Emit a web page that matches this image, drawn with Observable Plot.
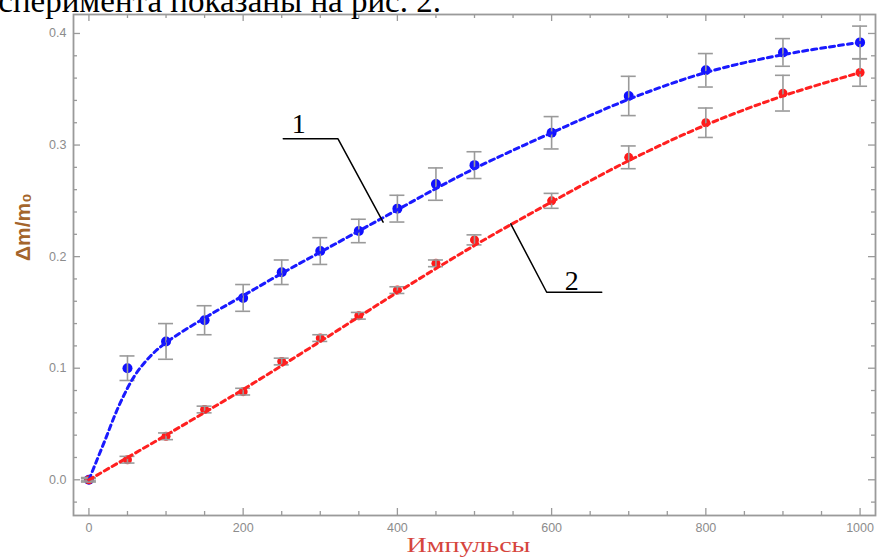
<!DOCTYPE html>
<html><head><meta charset="utf-8">
<script src="https://cdn.jsdelivr.net/npm/d3@7"></script>
<script src="https://cdn.jsdelivr.net/npm/@observablehq/plot@0.6"></script>
<style>
body{margin:0;background:#fff;}
#wrap{position:relative;width:877px;height:559px;overflow:hidden;background:#fff;}
#toptext{position:absolute;right:436px;top:-15px;font-family:"Liberation Serif",serif;font-size:33px;line-height:33px;white-space:nowrap;color:#000;}
#chart{position:absolute;left:0;top:0;}
</style></head><body>
<div id="wrap"><div id="chart"></div><div id="toptext">эксперимента показаны на рис. 2.</div></div>
<script>
// ---- data ----
const impulses = [0,50,100,150,200,250,300,350,400,450,500,600,700,800,900,1000];
const series1  = [0,0.100,0.124,0.143,0.163,0.186,0.205,0.223,0.243,0.265,0.282,0.311,0.344,0.367,0.383,0.392];
const err1     = [0.002,0.011,0.016,0.013,0.012,0.011,0.012,0.0105,0.012,0.0145,0.012,0.0145,0.0176,0.015,0.0124,0.0146];
const series2  = [0,0.018,0.039,0.063,0.079,0.106,0.127,0.147,0.170,0.194,0.215,0.250,0.289,0.320,0.3465,0.365];
const err2     = [0.001,0.003,0.003,0.003,0.003,0.003,0.003,0.003,0.003,0.003,0.0045,0.0067,0.0102,0.0132,0.016,0.0123];
// dashed fit curves
const fit1X = [0,20,40,60,80,100,150,200,250,300,350,400,450,500,600,700,800,900,1000];
const fit1Y = [0,0.034,0.068,0.094,0.111,0.123,0.145,0.165,0.185,0.204,0.223,0.242,0.261,0.279,0.311,0.341,0.365,0.381,0.392];
const fit2X = [0,100,200,300,400,500,600,700,800,900,1000];
const fit2Y = [0,0.040,0.081,0.124,0.168,0.210,0.249,0.286,0.318,0.344,0.365];
// ticks
const xTickLabels = [0,200,400,600,800,1000];
const xMinorTicks = [50,100,150,250,300,350,450,500,550,650,700,750,850,900,950];
const yTickLabels = [0.0,0.1,0.2,0.3,0.4];
const yMinorTicks = [-0.02,0.02,0.04,0.06,0.08,0.12,0.14,0.16,0.18,0.22,0.24,0.26,0.28,0.32,0.34,0.36,0.38];
// annotations (data coordinates)
const leader1X = [252,323,381.5];
const leader1Y = [0.3056,0.3056,0.2309];
const leader2X = [547,593.6,665];
const leader2Y = [0.2294,0.1681,0.1681];
const labelText = ["1","2"];
const labelX = [272,626];
const labelY = [0.3104,0.1697];
const xTitle = "Импульсы";
const yTitle = "Δm/m₀";

// ---- layout ----
const W = 877, H = 559;
const mL = 73, mR = 2, mT = 14, mB = 44;
const xDomain = [-20, 1020], yDomain = [-0.032, 0.417];
const pxX = (W - mL - mR) / (xDomain[1] - xDomain[0]);
const pxY = (H - mT - mB) / (yDomain[1] - yDomain[0]);
const majL = 7, minL = 4;
const frameColor = "#9a9a9a";

const rows1 = impulses.map((x,i)=>({x, y:series1[i], e:err1[i]}));
const rows2 = impulses.map((x,i)=>({x, y:series2[i], e:err2[i]}));
const fit1 = fit1X.map((x,i)=>({x, y:fit1Y[i]}));
const fit2 = fit2X.map((x,i)=>({x, y:fit2Y[i]}));
const lead1 = leader1X.map((x,i)=>({x, y:leader1Y[i]}));
const lead2 = leader2X.map((x,i)=>({x, y:leader2Y[i]}));
const labels = labelText.map((t,i)=>({t, x:labelX[i], y:labelY[i]}));
const capHalf = 7.5 / pxX;

function errMarks(rows){
  return [
    Plot.ruleX(rows, {x:"x", y1:d=>d.y-d.e, y2:d=>d.y+d.e, stroke:"#9a9a9a", strokeWidth:1.6}),
    Plot.ruleY(rows, {y:d=>d.y-d.e, x1:d=>d.x-capHalf, x2:d=>d.x+capHalf, stroke:"#9a9a9a", strokeWidth:1.6}),
    Plot.ruleY(rows, {y:d=>d.y+d.e, x1:d=>d.x-capHalf, x2:d=>d.x+capHalf, stroke:"#9a9a9a", strokeWidth:1.6})
  ];
}
function tickMarks(){
  const m = [];
  for (const [vals,len] of [[xTickLabels,majL],[xMinorTicks,minL]]) {
    m.push(Plot.ruleX(vals, {x:d=>d, y1:yDomain[0], y2:yDomain[0]+len/pxY, stroke:frameColor, strokeWidth:1.3}));
    m.push(Plot.ruleX(vals, {x:d=>d, y1:yDomain[1], y2:yDomain[1]-len/pxY, stroke:frameColor, strokeWidth:1.3}));
  }
  for (const [vals,len] of [[yTickLabels,majL],[yMinorTicks,minL]]) {
    m.push(Plot.ruleY(vals, {y:d=>d, x1:xDomain[0], x2:xDomain[0]+len/pxX, stroke:frameColor, strokeWidth:1.3}));
    m.push(Plot.ruleY(vals, {y:d=>d, x1:xDomain[1], x2:xDomain[1]-len/pxX, stroke:frameColor, strokeWidth:1.3}));
  }
  return m;
}

const chart = Plot.plot({
  width: W, height: H,
  marginLeft: mL, marginRight: mR, marginTop: mT, marginBottom: mB,
  style: {background:"transparent", fontFamily:"Liberation Sans, sans-serif"},
  x: {domain: xDomain, axis: null},
  y: {domain: yDomain, axis: null},
  marks: [
    ...tickMarks(),
    Plot.frame({stroke: frameColor, strokeWidth: 1.8}),
    Plot.text(xTickLabels, {x:d=>d, y:yDomain[0], text:d=>String(d), dy:12, fill:"#8c8c8c", fontSize:12.5}),
    Plot.text(yTickLabels, {y:d=>d, x:xDomain[0], text:d=>d.toFixed(1), dx:-7, textAnchor:"end", fill:"#8c8c8c", fontSize:12.5}),
    Plot.dot(rows1, {x:"x", y:"y", r:5, fill:"#1010ff", stroke:"none"}),
    Plot.dot(rows2, {x:"x", y:"y", r:4.5, fill:"#ff1a1a", stroke:"none"}),
    ...errMarks(rows1),
    ...errMarks(rows2),
    Plot.line(fit1, {x:"x", y:"y", curve:"catmull-rom", stroke:"#1a1aff", strokeWidth:3, strokeDasharray:"5,4"}),
    Plot.line(fit2, {x:"x", y:"y", curve:"catmull-rom", stroke:"#ff2020", strokeWidth:3, strokeDasharray:"5,4"}),
    Plot.line(lead1, {x:"x", y:"y", stroke:"#000", strokeWidth:1.5}),
    Plot.line(lead2, {x:"x", y:"y", stroke:"#000", strokeWidth:1.5}),
    Plot.text(labels, {x:"x", y:"y", text:"t", lineAnchor:"bottom", fontFamily:"Liberation Serif, serif", fontSize:28, fill:"#000"}),
    Plot.text([xTitle], {frameAnchor:"bottom", dx:-6, dy:36, fontFamily:"Liberation Serif, serif", fontSize:22, fill:"#d6453d", className:"xtitle"}),
    Plot.text([yTitle], {frameAnchor:"left", dx:-50, dy:-4, rotate:-90, fontFamily:"Liberation Sans, sans-serif", fontWeight:"bold", fontSize:21, fill:"#a4652c"})
  ]
});
document.getElementById("chart").appendChild(chart);
// stretch x title horizontally as in the reference
d3.select(chart).selectAll("g.xtitle text").attr("textLength", 124).attr("lengthAdjust", "spacingAndGlyphs");
</script>
</body></html>
